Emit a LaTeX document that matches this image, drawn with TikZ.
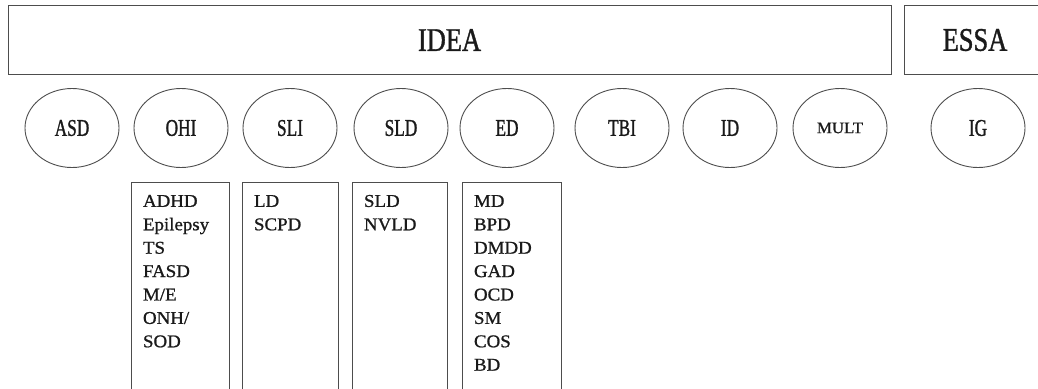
\documentclass[tikz,border=0pt]{standalone}
\usepackage{fontspec}
\setmainfont{Liberation Serif}
\newfontfamily\headfont[FakeStretch=0.8,FakeBold=1.1]{Liberation Serif}
\newfontfamily\ovalfont[FakeStretch=0.72,FakeBold=1.1]{Liberation Serif}
\newfontfamily\multfont[FakeStretch=1.05,FakeBold=0.9]{Liberation Serif}
\newfontfamily\listfont[FakeStretch=1.05,FakeBold=1.0]{Liberation Serif}
\usepackage{tikz}
\usetikzlibrary{positioning,shapes.geometric}
\definecolor{ink}{HTML}{1A1A1A}
\definecolor{rule}{HTML}{4D4D4D}
\newcommand{\hdfont}{\fontsize{33}{36}\selectfont\headfont}
\newcommand{\ovfont}{\fontsize{24}{26}\selectfont\ovalfont}
\newcommand{\lsfont}{\fontsize{18}{23.4}\selectfont\listfont}
\newcommand{\listtext}[2]{%
  \begin{minipage}[t][215pt][t]{#1}\raggedright
    \lsfont\strut #2\par
  \end{minipage}}

\begin{document}
\begin{tikzpicture}[x=1pt,y=1pt,
    lawbox/.style={draw=rule,line width=0.9pt,shape=rectangle,inner sep=0pt,
                   outer sep=0pt,text=ink,font=\hdfont},
    oval/.style={draw=rule,line width=0.9pt,shape=ellipse,minimum width=94pt,
                 minimum height=79pt,inner sep=0pt,text=ink,font=\ovfont},
    listbox/.style={draw=rule,line width=0.9pt,shape=rectangle,inner xsep=12pt,
                    inner ysep=8.5pt,outer sep=0pt,anchor=north west,text=ink}]

\useasboundingbox (0,0) rectangle (1038,-388);
\clip (0,0) rectangle (1038,-388);

% ======================= laws ==========================================================
\node[lawbox,minimum width=883pt,minimum height=69pt] (idea) at (449.5,-40) {IDEA};
\node[lawbox,minimum width=142pt,minimum height=69pt] (essa) at (975,-40) {ESSA};

% ======================= categories ====================================================
\node[oval] (asd)  at (72,-128)  {ASD};
\node[oval] (ohi)  at (181,-128) {OHI};
\node[oval] (sli)  at (290,-128) {SLI};
\node[oval] (sld)  at (401,-128) {SLD};
\node[oval] (ed)   at (507,-128) {ED};
\node[oval] (tbi)  at (622,-128) {TBI};
\node[oval] (id)   at (730,-128) {ID};
\node[oval,font=\fontsize{16}{18}\selectfont\multfont] (mult) at (840,-128) {MULT};
\node[oval] (ig)   at (978,-128) {IG};

% ======================= conditions ====================================================
\node[listbox] (ohiList) at (131,-182) {\listtext{74pt}{%
ADHD\\Epilepsy\\TS\\FASD\\M/E\\ONH/\\SOD}};
\node[listbox] (sliList) at (242,-182) {\listtext{72pt}{%
LD\\SCPD}};
\node[listbox] (sldList) at (352,-182) {\listtext{71pt}{%
SLD\\NVLD}};
\node[listbox] (edList)  at (462,-182) {\listtext{75pt}{%
MD\\BPD\\DMDD\\GAD\\OCD\\SM\\COS\\BD}};

\end{tikzpicture}
\end{document}
